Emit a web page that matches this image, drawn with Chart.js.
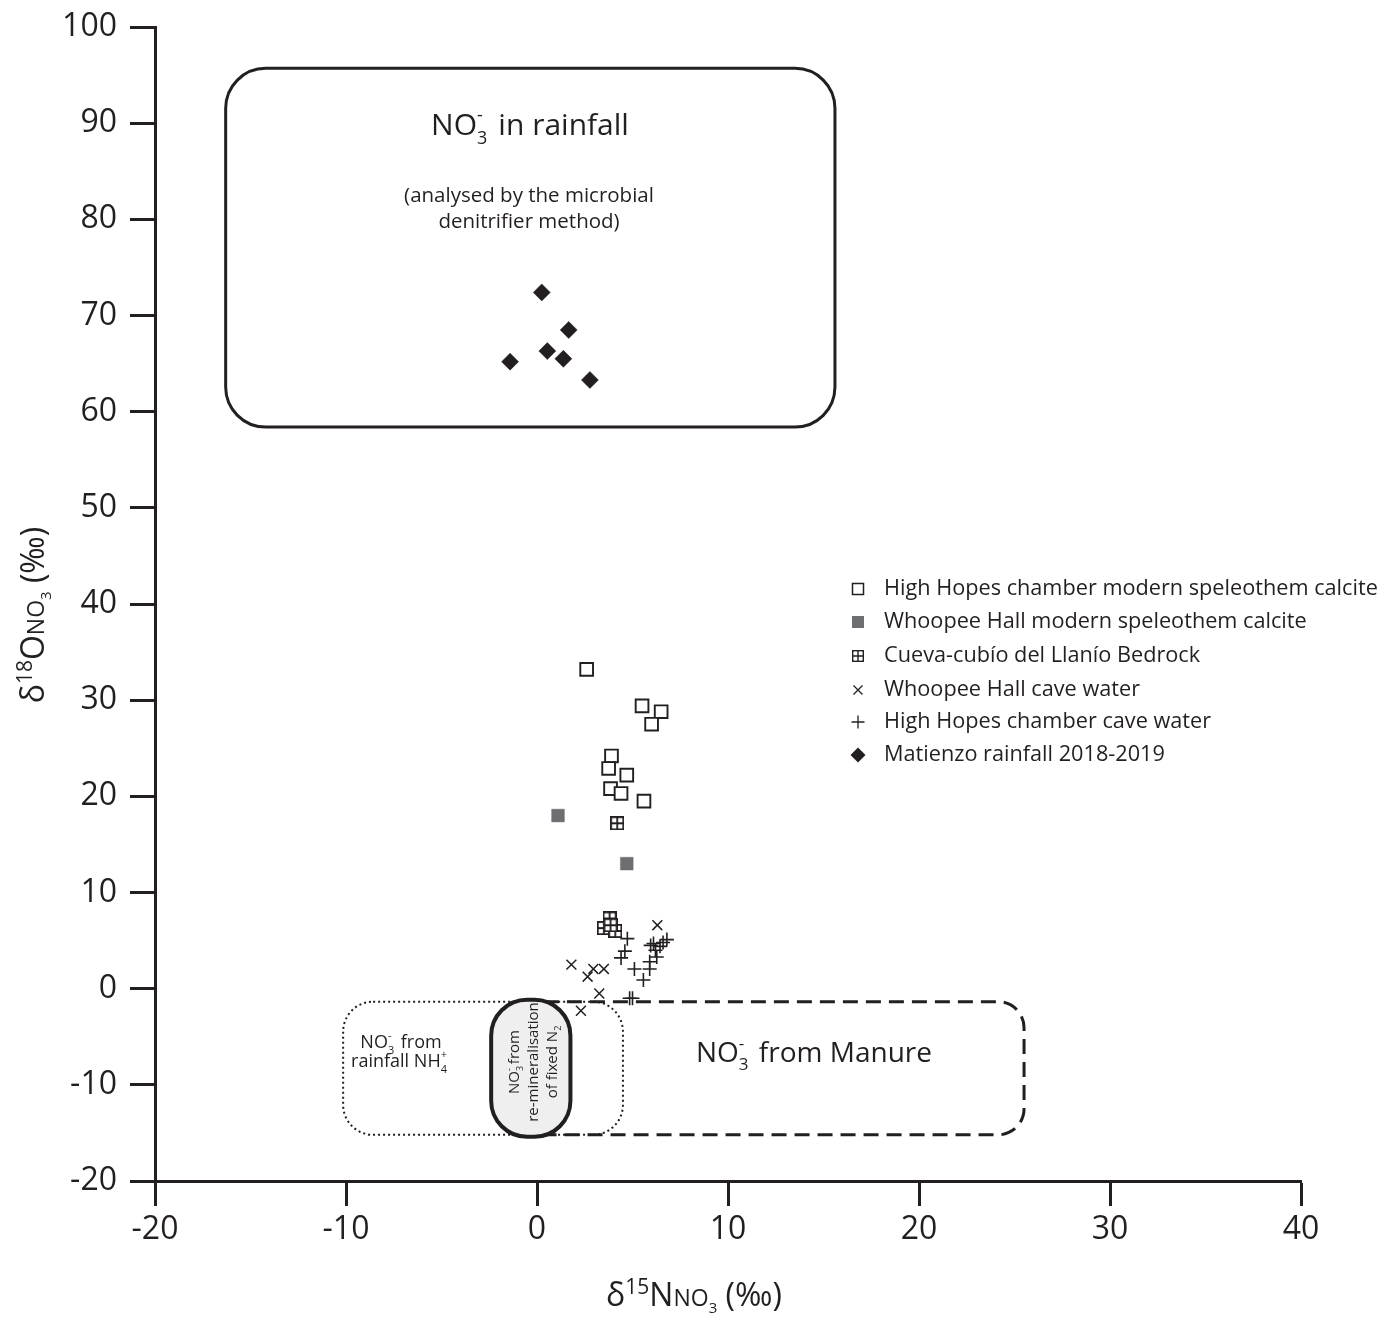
<!DOCTYPE html>
<html><head><meta charset="utf-8">
<script src="https://cdn.jsdelivr.net/npm/chart.js@4.4.0/dist/chart.umd.min.js"></script>
<style>html,body{margin:0;padding:0;background:#fff}</style>
</head><body>
<canvas id="c" width="1391" height="1321"></canvas>
<script>
// ---------------- DATA ----------------
const xTicks = [-20, -10, 0, 10, 20, 30, 40];
const yTicks = [-20, -10, 0, 10, 20, 30, 40, 50, 60, 70, 80, 90, 100];
const seriesNames = [
  'High Hopes chamber modern speleothem calcite',
  'Whoopee Hall modern speleothem calcite',
  'Cueva-cubío del Llanío Bedrock',
  'Whoopee Hall cave water',
  'High Hopes chamber cave water',
  'Matienzo rainfall 2018-2019'
];
const hhCalcite = [[2.6,33.2],[5.5,29.4],[6.5,28.8],[6.0,27.5],[3.9,24.2],[3.75,22.9],[4.7,22.2],[3.85,20.8],[4.4,20.3],[5.6,19.5]];
const whCalcite = [[1.1,18.0],[4.7,13.0]];
const bedrock = [[4.2,17.2],[3.8,7.3],[3.5,6.3],[4.1,6.0],[3.85,6.6]];
const whWater = [[6.3,6.6],[1.8,2.5],[2.95,2.05],[3.5,2.05],[2.65,1.25],[3.26,-0.5],[2.3,-2.3]];
const hhWater = [[4.73,5.2],[4.6,3.9],[4.4,3.2],[5.1,2.05],[5.57,0.9],[5.9,2.05],[6.1,4.7],[6.8,5.1],[6.2,4.0],[6.27,3.3],[6.44,4.4],[5.9,2.8],[5.0,-1.0],[4.85,-1.0],[6.6,4.8],[5.95,4.5]];
const rainfall = [[0.25,72.4],[1.66,68.5],[0.54,66.3],[1.38,65.5],[-1.41,65.2],[2.77,63.3]];

// Source fields (data units)
const rainfallField = {x1:-16.3, x2:15.6, y1:58.4, y2:95.7};
const manureField = {x1:-1.0, x2:25.5, y1:-15.2, y2:-1.35};
const nh4Field = {x1:-10.15, x2:4.5, y1:-15.2, y2:-1.35};
const fixedN2Field = {x1:-2.4, x2:1.75, y1:-15.4, y2:-1.15};

// ---------------- STYLE ----------------
const INK = '#231f20';
const GREY = '#6d6e71';
const FONT = "'Open Sans', sans-serif";

function makeBedrockImg(size, lw) {
  const c = document.createElement('canvas');
  c.width = size; c.height = size;
  const g = c.getContext('2d');
  g.fillStyle = '#fff'; g.fillRect(1, 1, size - 2, size - 2);
  g.strokeStyle = INK; g.lineWidth = lw;
  const o = lw / 2;
  g.strokeRect(o, o, size - 2 * o, size - 2 * o);
  g.beginPath();
  g.moveTo(size / 2, o); g.lineTo(size / 2, size - o);
  g.moveTo(o, size / 2); g.lineTo(size - o, size / 2);
  g.stroke();
  return c;
}
const bedrockImg = makeBedrockImg(14, 1.8);
const bedrockLegendImg = makeBedrockImg(12, 1.4);

const toPts = a => a.map(p => ({x: p[0], y: p[1]}));

function roundRect(ctx, x, y, w, h, r) {
  r = Math.min(r, w / 2, h / 2);
  ctx.beginPath();
  ctx.moveTo(x + r, y);
  ctx.lineTo(x + w - r, y);
  ctx.arcTo(x + w, y, x + w, y + r, r);
  ctx.lineTo(x + w, y + h - r);
  ctx.arcTo(x + w, y + h, x + w - r, y + h, r);
  ctx.lineTo(x + r, y + h);
  ctx.arcTo(x, y + h, x, y + h - r, r);
  ctx.lineTo(x, y + r);
  ctx.arcTo(x, y, x + r, y, r);
  ctx.closePath();
}

function fieldRect(chart, f) {
  const xs = chart.scales.x, ys = chart.scales.y;
  const x1 = xs.getPixelForValue(f.x1), x2 = xs.getPixelForValue(f.x2);
  const y1 = ys.getPixelForValue(f.y2), y2 = ys.getPixelForValue(f.y1);
  return {x: x1, y: y1, w: x2 - x1, h: y2 - y1};
}

// rich text: parts = [text, size, dy, advance(bool default true)]
function rich(ctx, parts, x, y, align) {
  let total = 0;
  const ws = parts.map(p => { ctx.font = p[1] + 'px ' + FONT; const w = ctx.measureText(p[0]).width; if (p[3] !== false) total += w; return w; });
  let cx = align === 'center' ? x - total / 2 : (align === 'right' ? x - total : x);
  ctx.textAlign = 'left'; ctx.textBaseline = 'alphabetic';
  parts.forEach((p, i) => {
    ctx.font = p[1] + 'px ' + FONT;
    ctx.fillText(p[0], cx, y + (p[2] || 0));
    if (p[3] !== false) cx += ws[i];
  });
}

const fieldsPlugin = {
  id: 'fields',
  beforeDatasetsDraw(chart) {
    const ctx = chart.ctx;
    ctx.save();
    let r = fieldRect(chart, nh4Field);
    ctx.strokeStyle = INK; ctx.lineWidth = 2; ctx.setLineDash([2, 3]);
    roundRect(ctx, r.x, r.y, r.w, r.h, 30); ctx.stroke();
    r = fieldRect(chart, manureField);
    ctx.lineWidth = 3; ctx.setLineDash([15, 8]);
    roundRect(ctx, r.x, r.y, r.w, r.h, 26); ctx.stroke();
    r = fieldRect(chart, fixedN2Field);
    ctx.setLineDash([]);
    ctx.fillStyle = '#efeff0'; ctx.lineWidth = 4;
    roundRect(ctx, r.x, r.y, r.w, r.h, 36); ctx.fill(); ctx.stroke();
    r = fieldRect(chart, rainfallField);
    ctx.lineWidth = 3;
    roundRect(ctx, r.x, r.y, r.w, r.h, 40); ctx.stroke();

    ctx.fillStyle = INK;
    rich(ctx, [['NO',30,0],['3',18,9,false],['-',18,-14],['  in rainfall',30,0]], 530, 135, 'center');
    rich(ctx, [['(analysed by the microbial',20.5,0]], 529, 202, 'center');
    rich(ctx, [['denitrifier method)',20.5,0]], 529, 228, 'center');
    rich(ctx, [['NO',28,0],['3',17,8,false],['-',17,-13],['  from Manure',28,0]], 814, 1062, 'center');
    rich(ctx, [['NO',18,0],['3',11,6,false],['-',11,-9],['  from',18,0]], 401, 1048, 'center');
    rich(ctx, [['rainfall NH',18,0],['4',11,6,false],['+',11,-9]], 399, 1067, 'center');
    ctx.save();
    ctx.translate(532, 1062);
    ctx.rotate(-Math.PI / 2);
    rich(ctx, [['NO',15,0],['3',9,4,false],['-',9,-7],[' from',15,0]], 0, -13, 'center');
    rich(ctx, [['re-mineralisation',15,0]], 0, 6, 'center');
    rich(ctx, [['of fixed N',15,0],['2',9,4]], 0, 25, 'center');
    ctx.restore();
    ctx.restore();
  }
};

const legendMarkers = [
  (ctx, x, y) => { ctx.strokeStyle = INK; ctx.lineWidth = 1.5; ctx.strokeRect(x - 5.5, y - 5.5, 11, 11); },
  (ctx, x, y) => { ctx.fillStyle = GREY; ctx.fillRect(x - 6, y - 6, 12, 12); },
  (ctx, x, y) => { ctx.drawImage(bedrockLegendImg, x - 6, y - 6); },
  (ctx, x, y) => { ctx.strokeStyle = INK; ctx.lineWidth = 1.3; ctx.beginPath(); ctx.moveTo(x-4.5,y-4.5); ctx.lineTo(x+4.5,y+4.5); ctx.moveTo(x+4.5,y-4.5); ctx.lineTo(x-4.5,y+4.5); ctx.stroke(); },
  (ctx, x, y) => { ctx.strokeStyle = INK; ctx.lineWidth = 1.3; ctx.beginPath(); ctx.moveTo(x-6.5,y); ctx.lineTo(x+6.5,y); ctx.moveTo(x,y-6.5); ctx.lineTo(x,y+6.5); ctx.stroke(); },
  (ctx, x, y) => { ctx.fillStyle = INK; ctx.beginPath(); ctx.moveTo(x-7.5,y); ctx.lineTo(x,y-7.5); ctx.lineTo(x+7.5,y); ctx.lineTo(x,y+7.5); ctx.closePath(); ctx.fill(); }
];

const overlayPlugin = {
  id: 'overlay',
  afterDraw(chart) {
    const ctx = chart.ctx;
    ctx.save();
    const rowsY = [589, 622, 656, 690, 722, 755];
    seriesNames.forEach((name, i) => {
      legendMarkers[i](ctx, 858, rowsY[i]);
      ctx.fillStyle = INK;
      ctx.font = '21.7px ' + FONT;
      ctx.textAlign = 'left'; ctx.textBaseline = 'middle';
      ctx.fillText(name, 884, rowsY[i]);
    });
    ctx.fillStyle = INK;
    rich(ctx, [['δ',32,0],['15',21,-12],['N',32,0],['NO',23,0],['3',15,7],[' (‰)',32,0]], 694, 1306, 'center');
    ctx.translate(44, 615);
    ctx.rotate(-Math.PI / 2);
    rich(ctx, [['δ',32,0],['18',21,-12],['O',32,0],['NO',23,0],['3',15,7],[' (‰)',32,0]], 0, 0, 'center');
    ctx.restore();
  }
};

const ds = (label, data, extra) => Object.assign({label, data: toPts(data), showLine: false}, extra);

new Chart(document.getElementById('c'), {
  type: 'scatter',
  data: {
    datasets: [
      ds(seriesNames[0], hhCalcite, {pointStyle: 'rect', pointRadius: 9, pointBackgroundColor: '#fff', pointBorderColor: INK, pointBorderWidth: 1.9}),
      ds(seriesNames[1], whCalcite, {pointStyle: 'rect', pointRadius: 9, pointBackgroundColor: GREY, pointBorderColor: GREY, pointBorderWidth: 0.5}),
      ds(seriesNames[2], bedrock, {pointStyle: bedrockImg, pointRadius: 7}),
      ds(seriesNames[3], whWater, {pointStyle: 'crossRot', pointRadius: 7, pointBorderColor: INK, pointBorderWidth: 1.5}),
      ds(seriesNames[4], hhWater, {pointStyle: 'cross', pointRadius: 7, pointBorderColor: INK, pointBorderWidth: 1.6}),
      ds(seriesNames[5], rainfall, {pointStyle: 'rectRot', pointRadius: 8.5, pointBackgroundColor: INK, pointBorderColor: INK, pointBorderWidth: 0.5})
    ]
  },
  options: {
    responsive: false,
    devicePixelRatio: 1,
    animation: false,
    layout: {padding: {top: 27, right: 90, left: 0, bottom: 0}},
    plugins: {legend: {display: false}, tooltip: {enabled: false}},
    scales: {
      x: {
        type: 'linear', min: xTicks[0], max: xTicks[xTicks.length - 1],
        afterBuildTicks: s => { s.ticks = xTicks.map(v => ({value: v})); },
        afterFit: s => { s.height = 140; },
        ticks: {color: INK, font: {family: FONT, size: 32}, padding: 5, maxRotation: 0, autoSkip: false},
        grid: {display: true, drawOnChartArea: false, drawTicks: true, tickLength: 25, tickColor: INK, tickWidth: 3},
        border: {display: true, color: INK, width: 3}
      },
      y: {
        type: 'linear', min: yTicks[0], max: yTicks[yTicks.length - 1],
        afterBuildTicks: s => { s.ticks = yTicks.map(v => ({value: v})); },
        afterFit: s => { s.width = 155; s.paddingTop = 0; s.paddingBottom = 0; },
        ticks: {color: INK, font: {family: FONT, size: 32, lineHeight: 0.7}, padding: 13, autoSkip: false},
        grid: {display: true, drawOnChartArea: false, drawTicks: true, tickLength: 25, tickColor: INK, tickWidth: 3},
        border: {display: true, color: INK, width: 3}
      }
    }
  },
  plugins: [fieldsPlugin, overlayPlugin]
});
</script>
</body></html>
